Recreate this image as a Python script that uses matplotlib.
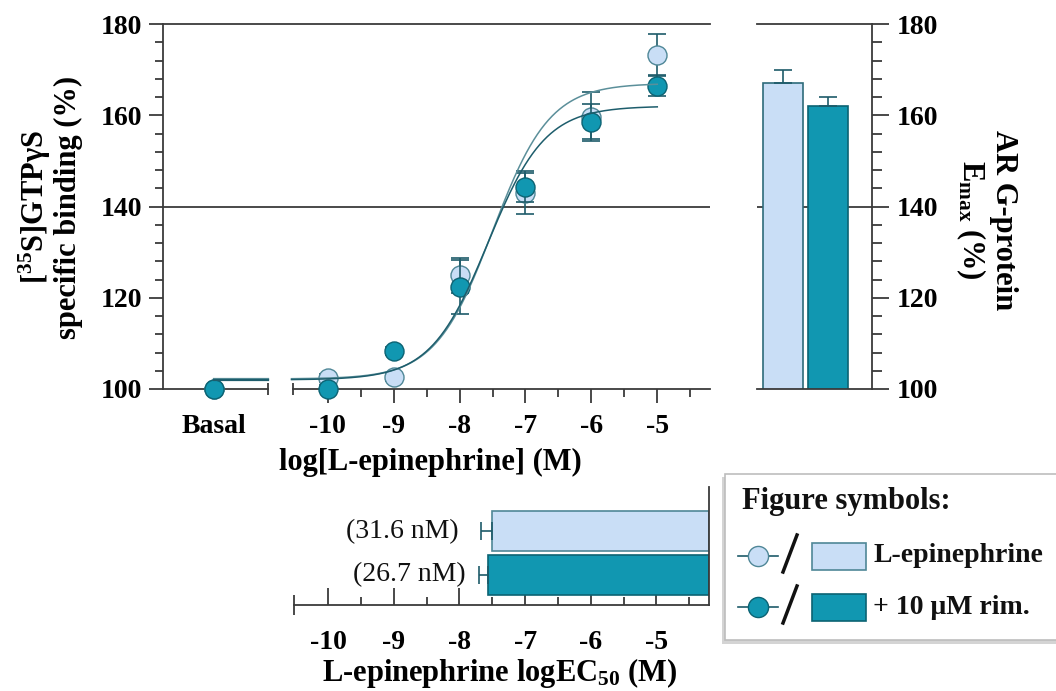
import numpy as np
import matplotlib
matplotlib.use('Agg')
import matplotlib.pyplot as plt
import matplotlib.transforms as mtransforms
from matplotlib.patches import Rectangle
from matplotlib.lines import Line2D

plt.rcParams['font.family'] = ['Liberation Serif', 'DejaVu Serif']
plt.rcParams['mathtext.fontset'] = 'custom'
plt.rcParams['mathtext.rm'] = 'Liberation Serif:bold'
plt.rcParams['mathtext.bf'] = 'Liberation Serif:bold'
plt.rcParams['mathtext.it'] = 'Liberation Serif:bold'
plt.rcParams['mathtext.default'] = 'rm'

# concentration-response data (log M)
log_conc = [-10, -9, -8, -7, -6, -5]
basal_x = -11.72
basal_mean = 100.0
epi_mean = [102.4, 102.6, 124.9, 142.9, 159.7, 173.2]
epi_sem = [0.8, 0.8, 3.8, 4.5, 5.4, 4.5]
rim_mean = [100.0, 108.3, 122.4, 144.3, 158.6, 166.5]
rim_sem = [0.8, 0.8, 5.9, 3.4, 3.8, 2.3]

# fitted sigmoid parameters (bottom, top, logEC50)
epi_fit = (102.2, 167.0, -7.50)
rim_fit = (102.0, 162.0, -7.57)

# Emax and logEC50 summary
names = ['L-epinephrine', '+ 10 μM rim.']
emax = [167.0, 162.0]
emax_sem = [3.0, 2.1]
logec50 = [-7.50, -7.57]
logec50_sem = [0.175, 0.13]
ec50_labels = ['(31.6 nM)', '(26.7 nM)']

light = '#c9def6'
light_edge = '#4f8797'
dark = '#1197b1'
dark_edge = '#0c6373'
errc = '#1e5b69'
axc = '#3a3a3a'
curve_cols = ['#5b8f9a', '#1d5d6c']

W, H = 1056, 691
fig = plt.figure(figsize=(W / 100, H / 100), dpi=100)


def box(l, t, r, b):
    return [l / W, 1 - b / H, (r - l) / W, (b - t) / H]


def sigmoid(x, p):
    bottom, top, lec = p
    return bottom + (top - bottom) / (1 + 10 ** (lec - x))


tick_font = dict(fontsize=20, fontweight='bold')

# ---- main concentration-response panel ----
ax = fig.add_axes(box(163, 24, 710, 389))
ax.set_xlim(-12.5, -4.2)
ax.set_ylim(100, 180)
for s in ['top', 'right', 'bottom']:
    ax.spines[s].set_visible(False)
ax.spines['left'].set_color(axc)
ax.spines['left'].set_linewidth(1.3)
ax.axhline(140, color=axc, lw=1.3, zorder=1)
ax.axhline(180, color=axc, lw=1.3, zorder=1, clip_on=False)

trans = mtransforms.blended_transform_factory(ax.transData, ax.transAxes)
ax.plot([-12.5, -10.91], [0, 0], transform=trans, color=axc, lw=1.3, clip_on=False,
        marker='|', markevery=[1], ms=9, mew=1.3)
ax.plot([-10.52, -4.2], [0, 0], transform=trans, color=axc, lw=1.3, clip_on=False,
        marker='|', markevery=[0], ms=9, mew=1.3)

ax.set_xticks([basal_x] + log_conc)
ax.set_xticklabels(['Basal'] + [str(v) for v in log_conc], **tick_font)
ax.set_xticks(np.arange(-9.5, -4.4, 1.0), minor=True)
ax.xaxis.get_major_ticks()[0].tick1line.set_visible(False)
ax.tick_params(axis='x', which='major', length=10, width=1.3, color=axc, pad=8)
ax.tick_params(axis='x', which='minor', length=6, width=1.3, color=axc)
ax.set_yticks(np.arange(100, 181, 20))
ax.set_yticks(np.arange(100, 181, 4), minor=True)
ax.set_yticklabels([str(v) for v in range(100, 181, 20)], **tick_font)
ax.tick_params(axis='y', which='major', length=10, width=1.3, color=axc, pad=5)
ax.tick_params(axis='y', which='minor', length=6, width=1.3, color=axc)

ax.errorbar(log_conc, epi_mean, yerr=epi_sem, fmt='none', ecolor=errc,
            elinewidth=1.2, capsize=6.8, capthick=1.2, zorder=3)
ax.plot([basal_x] + log_conc, [basal_mean] + epi_mean, 'o', ms=13.7, mfc=light,
        mec=light_edge, mew=1, zorder=4, clip_on=False)
ax.errorbar(log_conc, rim_mean, yerr=rim_sem, fmt='none', ecolor=errc,
            elinewidth=1.2, capsize=6.8, capthick=1.2, zorder=5)
ax.plot([basal_x] + log_conc, [basal_mean] + rim_mean, 'o', ms=13.7, mfc=dark,
        mec=dark_edge, mew=1, zorder=6, clip_on=False)

xs = np.linspace(-10.55, -5.0, 300)
for p, c in zip([epi_fit, rim_fit], curve_cols):
    ax.plot(xs, sigmoid(xs, p), color=c, lw=1.1, zorder=7)
    ax.plot([basal_x, -10.91], [p[0], p[0]], color=c, lw=1.6, zorder=7)

# ---- Emax bars ----
axr = fig.add_axes(box(757, 24, 872, 389))
axr.set_xlim(-0.58, 1.98)
axr.set_ylim(100, 180)
axr.bar([0, 1], emax, width=0.89, color=[light, dark],
        edgecolor=['#2e6b7a', dark_edge], lw=1.2, zorder=2)
axr.errorbar([0, 1], emax, yerr=[[0, 0], emax_sem], fmt='none', ecolor=errc,
             elinewidth=1.2, capsize=6.6, capthick=1.2, zorder=3)
axr.axhline(140, color=axc, lw=1.3, zorder=1)
axr.axhline(180, color=axc, lw=1.3, zorder=1, clip_on=False)
for s in ['top', 'left']:
    axr.spines[s].set_visible(False)
for s in ['right', 'bottom']:
    axr.spines[s].set_color(axc)
    axr.spines[s].set_linewidth(1.3)
axr.set_xticks([])
axr.yaxis.tick_right()
axr.set_yticks(np.arange(100, 181, 20))
axr.set_yticks(np.arange(100, 181, 4), minor=True)
axr.set_yticklabels([str(v) for v in range(100, 181, 20)], **tick_font)
axr.tick_params(axis='y', which='major', length=12, width=1.3, color=axc, pad=6)
axr.tick_params(axis='y', which='minor', length=7, width=1.3, color=axc)

# ---- logEC50 bars ----
axb = fig.add_axes(box(294, 487, 709, 605))
axb.set_xlim(-10.52, -4.2)
axb.set_ylim(-0.69, 2.02)
right_edge = axb.get_xlim()[1]
ypos = [1, 0]
axb.barh(ypos, [right_edge - v for v in logec50], left=logec50, height=0.92,
         color=[light, dark], edgecolor=['#4f8797', dark_edge], lw=1.2, zorder=2)
axb.errorbar(logec50, ypos, xerr=[logec50_sem, [0, 0]], fmt='none', ecolor=errc,
             elinewidth=1.2, capsize=6.5, capthick=1.2, zorder=3)
text_off = [-16, -10]
for v, e, y, lab, off in zip(logec50, logec50_sem, ypos, ec50_labels, text_off):
    axb.annotate(lab, xy=(v - e, y), xytext=(off, 0), textcoords='offset points',
                 ha='right', va='center', fontsize=20, color='#111111')
for s in ['top', 'left']:
    axb.spines[s].set_visible(False)
for s in ['right', 'bottom']:
    axb.spines[s].set_color(axc)
    axb.spines[s].set_linewidth(1.3)
transb = mtransforms.blended_transform_factory(axb.transData, axb.transAxes)
axb.plot([-10.52], [0], transform=transb, marker='|', ms=14, mew=1.3, color=axc,
         clip_on=False)
axb.set_yticks([])
axb.set_xticks(log_conc)
axb.set_xticklabels([str(v) for v in log_conc], **tick_font)
axb.set_xticks(np.arange(-9.5, -4.4, 1.0), minor=True)
axb.tick_params(axis='x', which='major', direction='in', length=12, width=1.3,
                color=axc, pad=18)
axb.tick_params(axis='x', which='minor', direction='in', length=6, width=1.3,
                color=axc)

# ---- axis titles ----
fig.text(50 / W, 1 - 207 / H, '[$^{35}$S]GTPγS\nspecific binding (%)', rotation=90,
         ha='center', va='center', fontsize=22, fontweight='bold',
         multialignment='center', linespacing=1.05)
fig.text(986 / W, 1 - 220 / H, 'AR G-protein\nE$_{max}$ (%)', rotation=270,
         ha='center', va='center', fontsize=22, fontweight='bold',
         multialignment='center', linespacing=1.05)
fig.text(430 / W, 1 - 462 / H, 'log[L-epinephrine] (M)', ha='center', va='center',
         fontsize=22, fontweight='bold')
fig.text(500 / W, 1 - 673 / H, 'L-epinephrine logEC$_{50}$ (M)', ha='center',
         va='center', fontsize=22, fontweight='bold')

# ---- legend box ----
axl = fig.add_axes([0, 0, 1, 1], zorder=10)
axl.set_xlim(0, W)
axl.set_ylim(H, 0)
axl.axis('off')
axl.patch.set_alpha(0)
axl.add_patch(Rectangle((722, 477), 340, 167, color='#d4d4d4', lw=0))
axl.add_patch(Rectangle((725, 474), 340, 166, facecolor='white', edgecolor='#bdbdbd', lw=1.2))
axl.text(742, 502, 'Figure symbols:', ha='left', va='center', fontsize=22,
         fontweight='bold', color='#111111')
rows_y = [556, 607]
for y, fc, ec, name in zip(rows_y, [light, dark], [light_edge, dark_edge], names):
    axl.add_line(Line2D([738, 778], [y, y], color=errc, lw=1.2))
    axl.add_line(Line2D([758], [y], marker='o', ms=14.5, mfc=fc, mec=ec, mew=1))
    axl.add_line(Line2D([783, 797], [y + 16, y - 21], color='#111111', lw=2.5))
    axl.add_patch(Rectangle((812, y - 13.5), 54, 27, facecolor=fc, edgecolor=ec, lw=1.2))
    axl.text(873, y, name, ha='left', va='center', fontsize=20, fontweight='bold',
             color='#111111')

fig.savefig('out.png', dpi=100)
